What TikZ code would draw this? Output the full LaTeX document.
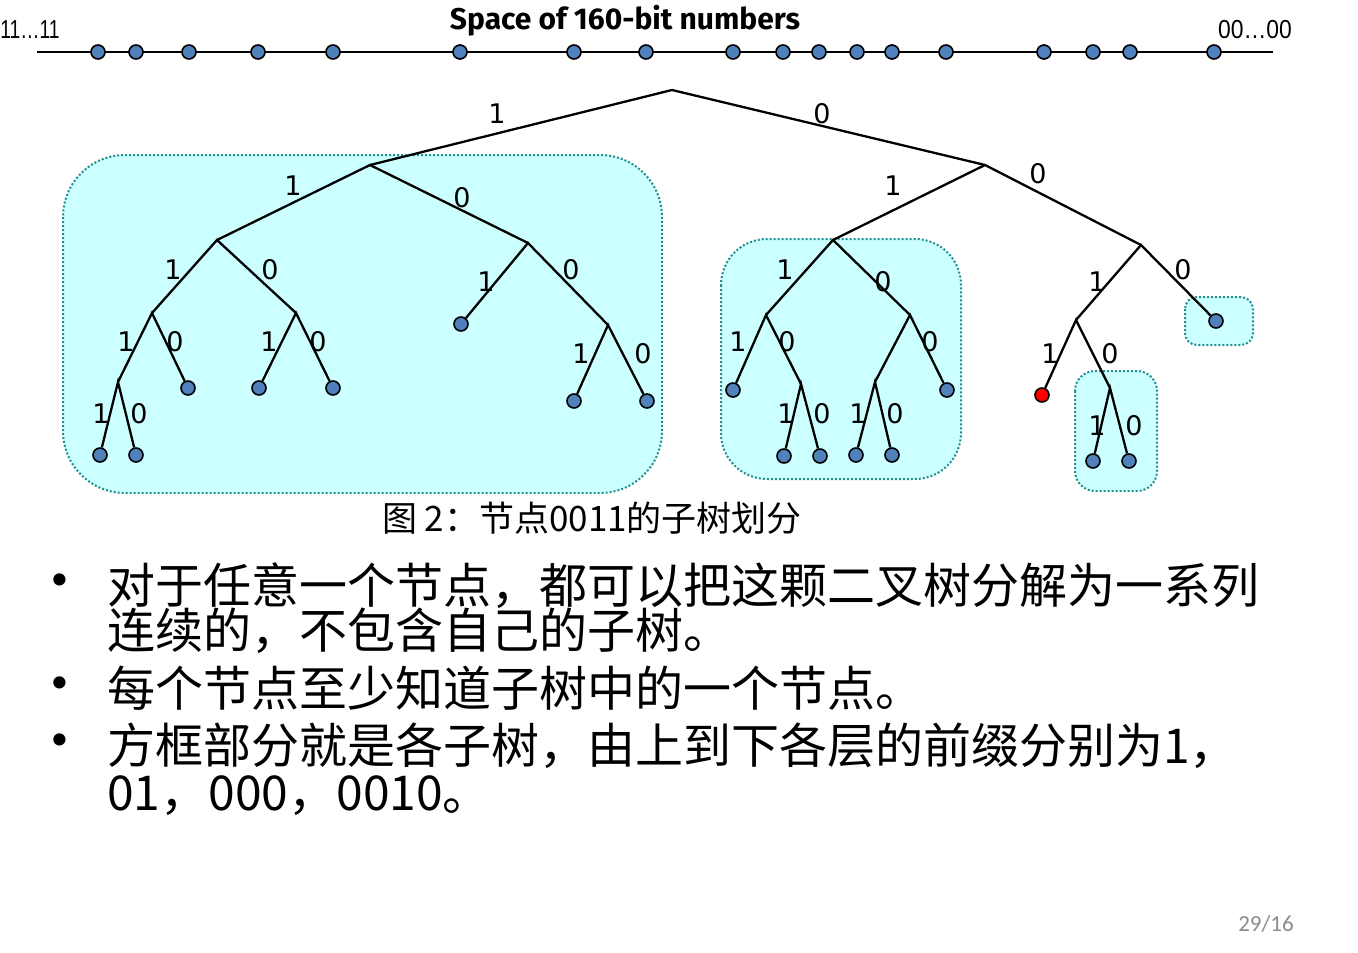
\documentclass[tikz,border=0pt]{standalone}
\usepackage{fontspec}
\setmainfont{Liberation Sans}
\newfontfamily\cjk{Noto Sans CJK SC}
\newfontfamily\bitfont{DejaVu Sans}
\newfontfamily\headfont{Fira Sans}
\newfontfamily\pagefont{Carlito}
\definecolor{leafblue}{HTML}{4F81BD}
\definecolor{boxcyan}{HTML}{CCFFFF}
\definecolor{boxteal}{HTML}{1F8F8F}
\definecolor{pagegray}{HTML}{8C8C8C}
\begin{document}
\begin{tikzpicture}[x=1pt,y=-1pt,
  edge/.style={line width=2.3pt,black},
  leaf/.style={circle,draw=black,line width=1.6pt,fill=leafblue,minimum size=14pt,inner sep=0pt},
  redleaf/.style={leaf,fill=red},
  bit/.style={font=\bitfont\fontsize{27}{27}\selectfont,inner sep=0pt},
  subtree/.style={draw=boxteal,dash pattern=on 2pt off 2pt,line width=2pt,fill=boxcyan},
  endlabel/.style={font=\fontsize{26}{26}\selectfont,inner sep=0pt},
  bodytext/.style={font=\cjk\fontsize{48}{48}\selectfont,anchor=base west,inner sep=0pt},
  bulletmark/.style={font=\bitfont\fontsize{42}{42}\selectfont,inner sep=0pt}]
\useasboundingbox (0,0) rectangle (1358,953);

% subtree frames
\draw[subtree,rounded corners=62pt] (63,155) rectangle (662,493);
\draw[subtree,rounded corners=46pt] (721,239) rectangle (961,479);
\draw[subtree,rounded corners=12pt] (1185,297) rectangle (1253,345);
\draw[subtree,rounded corners=20pt] (1075,371) rectangle (1157,491);

% identifier space line
\node[font=\headfont\bfseries\fontsize{30}{30}\selectfont] (title) at (625,21) {Space of 160-bit numbers};
\node[endlabel,xscale=0.74] (hi) at (30,30) {11…11};
\node[endlabel,xscale=0.88] (lo) at (1255,30) {00…00};
\coordinate (lineL) at (37,52);
\coordinate (lineR) at (1273,52);
\draw[line width=2.3pt] (lineL) -- (lineR);
\foreach \px [count=\i] in {98,136,189,258,333,460,574,646,733,783,819,857,892,946,1044,1093,1130,1214}
  \node[leaf] (id\i) at (\px,52) {};

% internal tree nodes
\coordinate (r) at (672,90);
\coordinate (n1) at (370,165);
\coordinate (n11) at (217,240);
\coordinate (n111) at (152,313);
\coordinate (n1111) at (118,382);
\coordinate (n110) at (296,313);
\coordinate (n10) at (528,243);
\coordinate (n100) at (608,325);
\coordinate (n0) at (985,165);
\coordinate (n01) at (833,240);
\coordinate (n011) at (766,315);
\coordinate (n0110) at (801,384);
\coordinate (n010) at (910,315);
\coordinate (n0101) at (875,382);
\coordinate (n00) at (1141,245);
\coordinate (n001) at (1076,320);
\coordinate (n0010) at (1110,388);

% leaves
\node[leaf] (a1) at (100,455) {};
\node[leaf] (a2) at (136,455) {};
\node[leaf] (a3) at (188,388) {};
\node[leaf] (a4) at (259,388) {};
\node[leaf] (a5) at (333,388) {};
\node[leaf] (a6) at (461,324) {};
\node[leaf] (a7) at (574,401) {};
\node[leaf] (a8) at (647,401) {};
\node[leaf] (b1) at (733,390) {};
\node[leaf] (b2) at (784,456) {};
\node[leaf] (b3) at (820,456) {};
\node[leaf] (b4) at (856,455) {};
\node[leaf] (b5) at (892,455) {};
\node[leaf] (b6) at (947,390) {};
\node[redleaf] (c1) at (1042,395) {};
\node[leaf] (c2) at (1093,461) {};
\node[leaf] (c3) at (1129,461) {};
\node[leaf] (c4) at (1216,321) {};

% edges
\draw[edge] (n1) -- (r) -- (n0);
\draw[edge] (n11) -- (n1) -- (n10);
\draw[edge] (n111) -- (n11) -- (n110);
\draw[edge] (n1111) -- (n111) -- (a3);
\draw[edge] (a1) -- (n1111) -- (a2);
\draw[edge] (a4) -- (n110) -- (a5);
\draw[edge] (a6) -- (n10) -- (n100);
\draw[edge] (a7) -- (n100) -- (a8);
\draw[edge] (n01) -- (n0) -- (n00);
\draw[edge] (n011) -- (n01) -- (n010);
\draw[edge] (b1) -- (n011) -- (n0110);
\draw[edge] (b2) -- (n0110) -- (b3);
\draw[edge] (n0101) -- (n010) -- (b6);
\draw[edge] (b4) -- (n0101) -- (b5);
\draw[edge] (n001) -- (n00) -- (c4);
\draw[edge] (c1) -- (n001) -- (n0010);
\draw[edge] (c2) -- (n0010) -- (c3);

% branch bits
\node[bit] (e1) at (497,114) {1};
\node[bit] (e2) at (822,114) {0};
\node[bit] (e3) at (293,186) {1};
\node[bit] (e4) at (462,198) {0};
\node[bit] (e5) at (173,270) {1};
\node[bit] (e6) at (270,270) {0};
\node[bit] (e7) at (126,342) {1};
\node[bit] (e8) at (175,342) {0};
\node[bit] (e9) at (101,414) {1};
\node[bit] (e10) at (139,414) {0};
\node[bit] (e11) at (269,342) {1};
\node[bit] (e12) at (318,342) {0};
\node[bit] (e13) at (486,282) {1};
\node[bit] (e14) at (571,270) {0};
\node[bit] (e15) at (581,354) {1};
\node[bit] (e16) at (643,354) {0};
\node[bit] (e17) at (893,186) {1};
\node[bit] (e18) at (1038,174) {0};
\node[bit] (e19) at (785,270) {1};
\node[bit] (e20) at (883,282) {0};
\node[bit] (e21) at (738,342) {1};
\node[bit] (e22) at (787,342) {0};
\node[bit] (e23) at (786,414) {1};
\node[bit] (e24) at (822,414) {0};
\node[bit] (e25) at (930,342) {0};
\node[bit] (e26) at (858,414) {1};
\node[bit] (e27) at (895,414) {0};
\node[bit] (e28) at (1097,282) {1};
\node[bit] (e29) at (1183,270) {0};
\node[bit] (e30) at (1050,354) {1};
\node[bit] (e31) at (1110,354) {0};
\node[bit] (e32) at (1097,426) {1};
\node[bit] (e33) at (1134,426) {0};

% caption
\node[font=\cjk\fontsize{35}{35}\selectfont,anchor=base,inner sep=0pt] (cap) at (592,531) {图 2：节点0011的子树划分};

% bullet list
\node[bulletmark] (m1) at (60,585) {•};
\node[bulletmark] (m2) at (60,688) {•};
\node[bulletmark] (m3) at (60,745) {•};
\node[bodytext] (t1) at (107,603) {对于任意一个节点，都可以把这颗二叉树分解为一系列};
\node[bodytext] (t2) at (107,648) {连续的，不包含自己的子树。};
\node[bodytext] (t3) at (107,706) {每个节点至少知道子树中的一个节点。};
\node[bodytext] (t4) at (107,763) {方框部分就是各子树，由上到下各层的前缀分别为1，};
\node[bodytext] (t5) at (107,810) {01，000，0010。};

% page number
\node[font=\pagefont\fontsize{23}{23}\selectfont,text=pagegray,inner sep=0pt] (pg) at (1266,924) {29/16};
\end{tikzpicture}
\end{document}
